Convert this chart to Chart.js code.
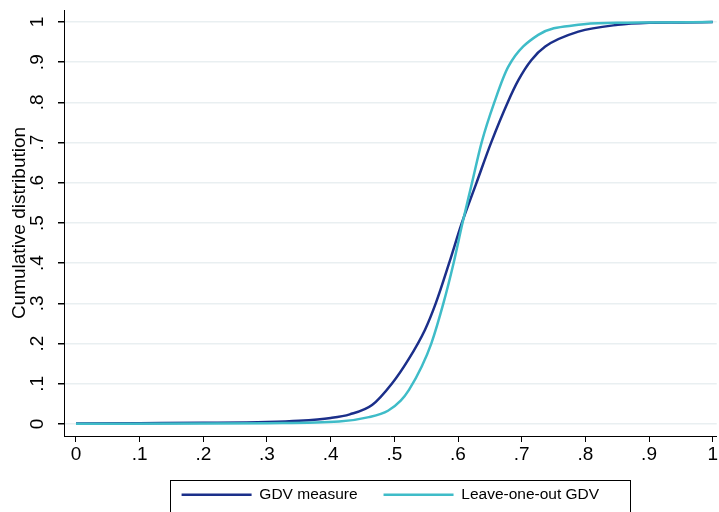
<!DOCTYPE html>
<html>
<head>
<meta charset="utf-8">
<script src="https://cdn.jsdelivr.net/npm/chart.js@4.4.1/dist/chart.umd.min.js"></script>
<style>
  html, body { margin: 0; padding: 0; background: #fff; }
  #wrap { width: 719px; height: 512px; }
</style>
</head>
<body>
<div id="wrap"><canvas id="cdfChart"></canvas></div>
<script>
// values
var gdvX = [0, 0.1, 0.2, 0.3, 0.35, 0.4, 0.43, 0.465, 0.496, 0.522, 0.548, 0.565, 0.586, 0.606, 0.629, 0.652, 0.678, 0.695, 0.715, 0.737, 0.789, 0.851, 0.9, 0.95, 1];
var gdvY = [0.001, 0.002, 0.003, 0.005, 0.008, 0.015, 0.024, 0.047, 0.10, 0.16, 0.234, 0.30, 0.40, 0.50, 0.60, 0.70, 0.80, 0.856, 0.905, 0.939, 0.976, 0.993, 0.998, 0.999, 1.0];

var looX = [0, 0.2, 0.3, 0.413, 0.46, 0.49, 0.51, 0.523, 0.543, 0.558, 0.577, 0.593, 0.607, 0.622, 0.637, 0.657, 0.679, 0.726, 0.789, 0.85, 0.9, 1];
var looY = [0.0005, 0.001, 0.002, 0.006, 0.017, 0.033, 0.058, 0.085, 0.143, 0.20, 0.30, 0.40, 0.50, 0.60, 0.70, 0.80, 0.889, 0.968, 0.993, 0.998, 0.999, 1.0];

var seriesLabels = ['GDV measure', 'Leave-one-out GDV'];
var tickValues = [0, 0.1, 0.2, 0.3, 0.4, 0.5, 0.6, 0.7, 0.8, 0.9, 1];
var tickLabels = ['0', '.1', '.2', '.3', '.4', '.5', '.6', '.7', '.8', '.9', '1'];

function toPoints(xs, ys) {
    return xs.map(function (x, i) {
        return { x: x, y: ys[i] };
    });
}

function setTicks(scale) {
    scale.ticks = tickValues.map(function (v) { return { value: v }; });
}

var FONT = "'Liberation Sans', Arial, sans-serif";

// frame round the legend, like Stata draws it
var legendFrame = {
    id: 'legendFrame',
    afterDraw: function (chart) {
        var ctx = chart.ctx;
        ctx.save();
        ctx.strokeStyle = '#000';
        ctx.lineWidth = 1;
        ctx.strokeRect(170.5, 480.5, 460, 60);
        ctx.restore();
    }
};

var ctx = document.getElementById('cdfChart').getContext('2d');
var myChart = new Chart(ctx, {
    type: 'line',
    data: {
        datasets: [{
            label: seriesLabels[0],
            data: toPoints(gdvX, gdvY),
            borderColor: '#1b2f8a',
            backgroundColor: '#1b2f8a',
            borderWidth: 2.5,
            pointRadius: 0,
            cubicInterpolationMode: 'monotone',
            order: 1
        }, {
            label: seriesLabels[1],
            data: toPoints(looX, looY),
            borderColor: '#3fbcc8',
            backgroundColor: '#3fbcc8',
            borderWidth: 2.5,
            pointRadius: 0,
            cubicInterpolationMode: 'monotone',
            order: 0
        }]
    },
    options: {
        responsive: true,
        maintainAspectRatio: false,
        animation: false,
        layout: { padding: { left: 0, right: 0, top: 10, bottom: 0 } },
        plugins: {
            tooltip: { enabled: false },
            legend: {
                position: 'bottom',
                fullSize: false,
                maxHeight: 51,
                labels: {
                    usePointStyle: true,
                    pointStyle: 'line',
                    pointStyleWidth: 70,
                    padding: 26,
                    color: '#000',
                    font: { family: FONT, size: 15.5 },
                    sort: function (a, b) { return a.datasetIndex - b.datasetIndex; }
                }
            }
        },
        scales: {
            x: {
                type: 'linear',
                min: -0.0188,
                max: 1.0063,
                afterBuildTicks: setTicks,
                afterFit: function (scale) { scale.height = 25; },
                border: { display: true, color: '#000', width: 1 },
                grid: { drawOnChartArea: false, drawTicks: true, tickLength: 6, tickColor: '#000' },
                ticks: {
                    color: '#000',
                    padding: 1,
                    maxRotation: 0,
                    autoSkip: false,
                    font: { family: FONT, size: 19 },
                    callback: function (v, i) { return tickLabels[i]; }
                }
            },
            y: {
                type: 'linear',
                min: -0.0299,
                max: 1.0299,
                afterBuildTicks: setTicks,
                afterFit: function (scale) {
                    scale.width = 64;
                    scale.paddingTop = 0;
                    scale.paddingBottom = 0;
                },
                border: { display: true, color: '#000', width: 1 },
                grid: { color: '#e9eff1', lineWidth: 1.5, tickLength: 6, tickColor: '#000' },
                title: {
                    display: true,
                    text: 'Cumulative distribution',
                    color: '#000',
                    padding: { top: 8, bottom: 0 },
                    font: { family: FONT, size: 19 }
                },
                ticks: {
                    color: '#000',
                    minRotation: 90,
                    maxRotation: 90,
                    crossAlign: 'center',
                    padding: 12,
                    autoSkip: false,
                    font: { family: FONT, size: 19 },
                    callback: function (v, i) { return tickLabels[i]; }
                }
            }
        }
    },
    plugins: [legendFrame]
});
</script>
</body>
</html>
